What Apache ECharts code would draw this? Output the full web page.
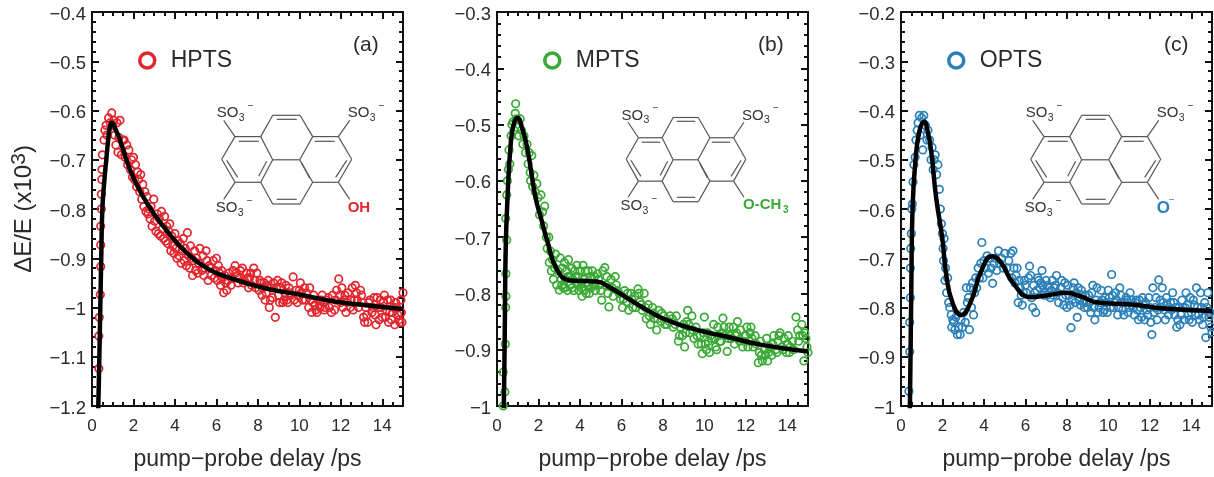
<!DOCTYPE html>
<html>
<head>
<meta charset="utf-8">
<style>
  html, body { margin: 0; padding: 0; background: #fff; }
  #chart { width: 1214px; height: 477px; }
</style>
</head>
<body>
<div id="chart"></div>
<script src="https://cdn.jsdelivr.net/npm/echarts@6/dist/echarts.min.js"></script>
<script>
// values: [delay in ps, dE/E]
const hptsPoints = [
  [0.33,-1.124],[0.33,-1.058],[0.35,-1.02],[0.4,-0.974],[0.42,-0.917],[0.42,-0.873],[0.42,-0.835],[0.45,-0.8],[0.45,-0.77],[0.47,-0.74],[0.48,-0.72],[0.5,-0.69],
  [0.58,-0.66],[0.62,-0.64],[0.68,-0.63],[0.72,-0.65],[0.8,-0.615],[0.88,-0.625],[0.95,-0.605],[1.0,-0.63],[1.05,-0.62],[1.1,-0.65],[1.15,-0.67],[1.2,-0.625],[1.25,-0.685],[1.3,-0.655],[1.35,-0.62],[1.42,-0.69],[1.48,-0.66],[1.55,-0.66],[1.6,-0.695],[1.68,-0.67],[1.72,-0.71],[1.78,-0.68],[1.85,-0.72],[1.9,-0.7],[1.95,-0.735],[2.0,-0.695],[2.05,-0.74],[2.1,-0.71],[2.15,-0.755],[2.2,-0.725],[2.25,-0.74],[2.3,-0.765],[2.35,-0.73],[2.4,-0.78],[2.45,-0.75],[2.5,-0.795],[2.55,-0.765],[2.6,-0.805],[2.65,-0.775],[2.7,-0.81],[2.75,-0.8],[2.8,-0.82],[2.85,-0.795],[2.9,-0.835],[2.98,-0.78],[3.02,-0.825],[3.08,-0.845],[3.15,-0.81],[3.2,-0.85],[3.25,-0.82],[3.3,-0.855],[3.35,-0.805],[3.4,-0.84],[3.45,-0.86],[3.5,-0.815],[3.55,-0.865],[3.6,-0.835],[3.65,-0.87],[3.7,-0.845],[3.75,-0.83],[3.8,-0.885],[3.85,-0.855],[3.9,-0.875],
  [3.95,-0.89],[4.0,-0.85],[4.05,-0.88],[4.1,-0.9],[4.15,-0.865],[4.2,-0.895],[4.25,-0.87],[4.3,-0.91],[4.35,-0.885],[4.4,-0.86],[4.45,-0.905],[4.5,-0.88],[4.55,-0.915],[4.6,-0.848],[4.65,-0.895],[4.7,-0.92],[4.75,-0.875],[4.8,-0.9],[4.85,-0.935],[4.9,-0.905],[4.95,-0.885],[5.0,-0.925],[5.05,-0.9],[5.1,-0.93],[5.15,-0.91],[5.2,-0.88],[5.3,-0.925],[5.35,-0.895],[5.45,-0.92],[5.5,-0.885],[5.6,-0.945],[5.65,-0.915],[5.75,-0.935],[5.85,-0.905],[5.95,-0.925],[6.0,-0.9],[6.05,-0.945],[6.15,-0.93],[6.2,-0.955],[6.3,-0.94],[6.35,-0.97],[6.45,-0.95],[6.5,-0.965],[6.6,-0.93],[6.7,-0.955],[6.8,-0.925],[6.9,-0.915],[7.0,-0.935],[7.05,-0.95],[7.15,-0.925],[7.25,-0.92],[7.35,-0.945],[7.45,-0.93],[7.55,-0.96],[7.6,-0.94],[7.7,-0.955],[7.8,-0.92],[7.85,-0.945],[7.95,-0.93],[8.05,-0.965],[8.15,-0.95],[8.2,-0.975],[8.3,-0.95],[8.35,-0.985],[8.45,-0.955],[8.55,-1.0],[8.65,-0.96],[8.7,-0.98],[8.84,-1.02],[8.9,-0.96],[9.0,-0.975],[9.1,-0.96],[9.2,-0.99],[9.3,-0.97],[9.4,-0.985],[9.5,-0.96],[9.6,-0.975],[9.7,-0.938],[9.75,-0.985],[9.85,-0.965],[9.95,-0.975],[10.05,-0.95],[10.15,-0.985],[10.25,-0.96],[10.35,-0.97],[10.45,-1.0],[10.55,-0.985],[10.6,-1.01],[10.7,-0.975],[10.8,-1.005],[10.9,-0.985],[11.0,-1.0],[11.1,-0.975],[11.2,-1.005],[11.3,-0.985],[11.45,-1.0],[11.6,-0.975],[11.7,-1.005],[11.8,-0.965],[11.9,-0.942],[11.95,-0.975],[12.05,-0.96],[12.15,-0.985],[12.25,-1.01],[12.35,-0.97],[12.45,-1.0],[12.55,-0.96],[12.65,-0.985],[12.75,-0.97],[12.85,-1.0],[13.0,-0.975],[13.1,-1.02],[13.2,-1.0],[13.3,-1.03],[13.4,-0.985],[13.5,-1.01],[13.6,-0.98],[13.7,-1.035],[13.8,-1.0],[13.9,-0.985],[14.0,-1.02],[14.1,-0.975],[14.2,-1.005],[14.3,-1.03],[14.4,-0.985],[14.5,-1.01],[14.6,-1.035],[14.7,-1.0],[14.8,-1.025],[14.9,-0.985],[14.95,-1.03],[15.0,-0.97],
  [5.4,-0.935],[5.55,-0.905],[5.7,-0.92],[5.9,-0.94],[6.1,-0.915],[6.25,-0.925],[6.4,-0.935],[6.55,-0.945],[6.75,-0.94],[6.95,-0.93],[7.1,-0.94],[7.3,-0.95],[7.5,-0.94],[7.65,-0.93],[7.9,-0.96],[8.1,-0.945],[8.25,-0.96],[8.4,-0.97],[8.5,-0.945],[8.6,-0.985],[8.75,-0.95],[8.95,-0.945],[9.05,-0.99],[9.15,-0.95],[9.25,-0.985],[9.35,-0.955],[9.45,-0.99],[9.55,-0.97],[9.9,-0.99],[10.0,-0.965],[10.1,-0.97],[10.3,-0.985],[10.5,-0.96],[10.65,-0.99],[10.75,-0.995],[10.85,-1.01],[11.05,-0.985],[11.15,-0.99],[11.25,-1.0],[11.4,-0.98],[11.55,-1.01],[11.75,-0.985],[12.0,-0.99],[12.1,-1.0],[12.2,-0.975],[12.3,-0.99],[12.5,-0.985],[12.6,-1.005],[12.7,-0.955],[12.8,-0.985],[12.95,-0.965],[13.05,-0.99],[13.15,-1.03],[13.25,-1.015],[13.35,-0.99],[13.55,-1.0],[13.65,-1.015],[13.75,-0.98],[13.85,-1.025],[13.95,-1.0],[14.05,-0.99],[14.15,-1.02],[14.25,-0.985],[14.35,-1.01],[14.45,-1.025],[14.55,-1.0],[14.65,-0.99],[14.75,-1.015],[14.85,-1.03],[14.92,-1.01]
];
const hptsFit = [[0.25,-1.3],[0.33,-1.15],[0.4,-1.0],[0.45,-0.89],[0.5,-0.8],[0.6,-0.74],[0.69,-0.7],[0.78,-0.66],[0.86,-0.635],[0.95,-0.625],[1.1,-0.635],[1.35,-0.66],[1.83,-0.72],[2.4,-0.77],[2.96,-0.808],[3.76,-0.852],[4.57,-0.889],[5.53,-0.92],[6.66,-0.94],[8.45,-0.962],[10.05,-0.974],[11.7,-0.988],[13.3,-0.996],[15,-1.003]];

const mptsPoints = [
  [0.3,-1.0],[0.3,-0.94],[0.38,-0.975],[0.4,-0.89],[0.42,-0.825],[0.43,-0.805],[0.43,-0.765],[0.42,-0.667],[0.47,-0.705],[0.47,-0.625],[0.5,-0.6],[0.55,-0.58],[0.58,-0.545],[0.62,-0.57],[0.68,-0.52],[0.72,-0.5],[0.78,-0.495],[0.82,-0.51],[0.88,-0.48],[0.9,-0.463],[0.92,-0.49],[0.98,-0.505],[1.05,-0.52],[1.12,-0.49],[1.18,-0.51],[1.25,-0.535],[1.3,-0.52],[1.38,-0.55],[1.45,-0.535],[1.5,-0.57],[1.55,-0.55],[1.6,-0.585],[1.62,-0.6],[1.68,-0.555],[1.72,-0.61],[1.78,-0.59],[1.85,-0.62],[1.92,-0.605],[1.98,-0.63],[2.05,-0.66],[2.12,-0.625],[2.2,-0.655],[2.25,-0.68],[2.3,-0.645],[2.38,-0.7],[2.42,-0.72],[2.5,-0.7],[2.52,-0.745],[2.58,-0.725],[2.62,-0.76],[2.68,-0.74],[2.72,-0.775],[2.78,-0.755],[2.82,-0.73],[2.88,-0.785],[2.95,-0.76],[3.0,-0.794],[3.05,-0.737],[3.1,-0.775],[3.15,-0.755],[3.2,-0.79],[3.25,-0.745],[3.3,-0.775],[3.35,-0.76],[3.4,-0.795],[3.45,-0.74],[3.5,-0.77],[3.55,-0.785],[3.6,-0.755],[3.65,-0.775],[3.7,-0.795],[3.75,-0.76],[3.8,-0.78],[3.85,-0.75],[3.9,-0.77],[3.95,-0.795],[4.0,-0.76],[4.05,-0.78],[4.1,-0.805],[4.15,-0.75],[4.2,-0.775],[4.25,-0.76],[4.3,-0.8],[4.35,-0.78],[4.4,-0.76],[4.45,-0.8],[4.5,-0.77],[4.55,-0.79],[4.6,-0.76],[4.65,-0.785],[4.7,-0.77],[4.75,-0.795],[4.85,-0.765],[4.95,-0.785],[5.05,-0.812],[5.1,-0.76],[5.2,-0.754],[5.25,-0.785],[5.35,-0.8],[5.4,-0.824],[5.5,-0.775],[5.6,-0.805],[5.7,-0.77],[5.8,-0.795],[5.95,-0.81],[6.05,-0.825],[6.15,-0.795],[6.25,-0.815],[6.35,-0.83],[6.45,-0.8],[6.55,-0.825],[6.65,-0.805],[6.8,-0.792],[6.9,-0.815],[7.0,-0.83],[7.1,-0.8],[7.2,-0.845],[7.3,-0.82],[7.4,-0.855],[7.5,-0.825],[7.6,-0.845],[7.7,-0.865],[7.8,-0.83],[7.9,-0.85],[8.05,-0.84],[8.2,-0.855],[8.35,-0.84],[8.5,-0.86],[8.65,-0.84],[8.75,-0.885],[8.85,-0.86],[8.95,-0.875],[9.05,-0.895],[9.15,-0.85],[9.2,-0.83],[9.3,-0.87],[9.4,-0.84],[9.5,-0.88],[9.6,-0.86],[9.7,-0.89],[9.8,-0.875],[9.9,-0.907],[10.0,-0.842],[10.05,-0.89],[10.15,-0.87],[10.25,-0.905],[10.35,-0.88],[10.45,-0.855],[10.55,-0.895],[10.65,-0.86],[10.75,-0.885],[10.85,-0.87],[10.9,-0.844],[11.0,-0.875],[11.1,-0.903],[11.2,-0.86],[11.3,-0.88],[11.4,-0.86],[11.5,-0.875],[11.6,-0.85],[11.7,-0.885],[11.85,-0.895],[11.95,-0.875],[12.05,-0.86],[12.15,-0.885],[12.25,-0.86],[12.35,-0.895],[12.45,-0.875],[12.6,-0.923],[12.7,-0.885],[12.8,-0.92],[12.9,-0.9],[13.0,-0.88],[13.05,-0.92],[13.15,-0.895],[13.25,-0.91],[13.35,-0.875],[13.45,-0.9],[13.55,-0.885],[13.65,-0.87],[13.75,-0.895],[13.85,-0.88],[13.95,-0.905],[14.05,-0.875],[14.15,-0.895],[14.25,-0.885],[14.42,-0.842],[14.5,-0.865],[14.6,-0.875],[14.7,-0.855],[14.8,-0.92],[14.85,-0.87],[14.95,-0.895],[15.0,-0.905],
  [3.12,-0.785],[3.28,-0.79],[3.42,-0.77],[3.62,-0.79],[3.78,-0.77],[3.92,-0.785],[4.08,-0.79],[4.22,-0.795],[4.42,-0.785],[4.58,-0.775],[4.72,-0.785],[4.9,-0.775],[5.0,-0.795],[5.3,-0.77],[5.55,-0.79],[5.75,-0.785],[5.9,-0.8],[6.1,-0.81],[6.3,-0.8],[6.5,-0.81],[6.7,-0.825],[6.85,-0.8],[6.95,-0.82],[7.15,-0.825],[7.35,-0.84],[7.55,-0.835],[7.75,-0.845],[7.95,-0.835],[8.1,-0.855],[8.3,-0.85],[8.45,-0.845],[8.6,-0.855],[8.8,-0.875],[9.0,-0.855],[9.1,-0.87],[9.25,-0.855],[9.45,-0.865],[9.65,-0.875],[9.85,-0.89],[9.95,-0.87],[10.1,-0.9],[10.2,-0.885],[10.3,-0.875],[10.5,-0.88],[10.6,-0.9],[10.7,-0.875],[10.8,-0.885],[10.95,-0.86],[11.15,-0.88],[11.25,-0.875],[11.45,-0.89],[11.55,-0.87],[11.75,-0.865],[11.9,-0.885],[12.0,-0.875],[12.1,-0.895],[12.2,-0.87],[12.3,-0.88],[12.5,-0.89],[12.65,-0.905],[12.75,-0.91],[12.95,-0.91],[13.1,-0.905],[13.3,-0.89],[13.5,-0.905],[13.6,-0.875],[13.8,-0.9],[14.0,-0.89],[14.1,-0.905],[14.3,-0.9],[14.55,-0.885],[14.75,-0.875],[14.9,-0.88]
];
const mptsFit = [[0.3,-1.05],[0.33,-1.0],[0.38,-0.85],[0.42,-0.72],[0.52,-0.62],[0.65,-0.54],[0.8,-0.5],[1,-0.488],[1.2,-0.505],[1.45,-0.54],[1.85,-0.628],[2.15,-0.67],[2.41,-0.705],[2.9,-0.758],[3.54,-0.777],[4.2,-0.778],[4.82,-0.779],[5.47,-0.79],[6.27,-0.808],[7.07,-0.826],[8.03,-0.845],[9.47,-0.863],[11.1,-0.877],[12.7,-0.891],[15,-0.903]];

const optsPoints = [
  [0.38,-0.97],[0.42,-0.89],[0.42,-0.83],[0.45,-0.78],[0.45,-0.72],[0.47,-0.68],[0.5,-0.65],[0.52,-0.6],[0.55,-0.59],[0.58,-0.545],[0.62,-0.51],[0.68,-0.495],[0.72,-0.46],[0.78,-0.44],[0.82,-0.425],[0.88,-0.41],[0.92,-0.45],[1.0,-0.415],[1.05,-0.48],[1.1,-0.41],[1.18,-0.43],[1.25,-0.46],[1.3,-0.44],[1.38,-0.46],[1.45,-0.5],[1.5,-0.475],[1.55,-0.52],[1.6,-0.5],[1.65,-0.49],[1.72,-0.53],[1.78,-0.51],[1.85,-0.56],[1.9,-0.6],[1.95,-0.63],[2.0,-0.65],[2.03,-0.68],[2.08,-0.66],[2.05,-0.705],[2.15,-0.72],[2.12,-0.745],[2.25,-0.74],[2.2,-0.77],[2.3,-0.79],[2.35,-0.8],[2.42,-0.815],[2.45,-0.84],[2.5,-0.825],[2.55,-0.83],[2.6,-0.845],[2.65,-0.82],[2.72,-0.855],[2.78,-0.84],[2.85,-0.855],[2.9,-0.825],[2.95,-0.84],[3.02,-0.81],[3.1,-0.83],[3.15,-0.76],[3.2,-0.79],[3.25,-0.78],[3.3,-0.845],[3.35,-0.76],[3.4,-0.8],[3.45,-0.75],[3.5,-0.815],[3.55,-0.77],[3.6,-0.74],[3.65,-0.76],[3.72,-0.72],[3.78,-0.74],[3.85,-0.71],[3.9,-0.668],[3.95,-0.74],[4.0,-0.705],[4.08,-0.72],[4.15,-0.695],[4.22,-0.73],[4.3,-0.7],[4.35,-0.72],[4.42,-0.751],[4.48,-0.71],[4.55,-0.7],[4.62,-0.725],[4.7,-0.685],[4.75,-0.71],[4.85,-0.7],[4.92,-0.72],[5.0,-0.69],[5.1,-0.72],[5.2,-0.705],[5.3,-0.69],[5.35,-0.74],[5.4,-0.685],[5.5,-0.75],[5.6,-0.72],[5.65,-0.79],[5.75,-0.76],[5.85,-0.795],[5.95,-0.745],[6.05,-0.77],[6.15,-0.74],[6.2,-0.716],[6.3,-0.78],[6.35,-0.8],[6.4,-0.755],[6.5,-0.81],[6.6,-0.74],[6.7,-0.76],[6.8,-0.725],[6.9,-0.775],[7.0,-0.745],[7.1,-0.755],[7.2,-0.78],[7.3,-0.745],[7.4,-0.76],[7.5,-0.735],[7.6,-0.79],[7.7,-0.76],[7.8,-0.78],[7.9,-0.75],[8.0,-0.8],[8.1,-0.775],[8.2,-0.841],[8.3,-0.76],[8.4,-0.79],[8.5,-0.82],[8.55,-0.76],[8.65,-0.795],[8.75,-0.775],[8.85,-0.8],[8.95,-0.79],[9.05,-0.775],[9.15,-0.81],[9.25,-0.755],[9.35,-0.825],[9.45,-0.76],[9.55,-0.8],[9.65,-0.765],[9.75,-0.81],[9.85,-0.78],[9.95,-0.81],[10.05,-0.78],[10.16,-0.733],[10.25,-0.8],[10.35,-0.77],[10.45,-0.815],[10.55,-0.76],[10.65,-0.79],[10.75,-0.815],[10.85,-0.78],[10.95,-0.81],[11.05,-0.77],[11.15,-0.795],[11.25,-0.815],[11.35,-0.785],[11.45,-0.825],[11.55,-0.8],[11.65,-0.78],[11.75,-0.825],[11.85,-0.805],[11.95,-0.78],[12.05,-0.83],[12.1,-0.855],[12.15,-0.76],[12.25,-0.8],[12.35,-0.825],[12.43,-0.744],[12.5,-0.785],[12.6,-0.76],[12.7,-0.805],[12.8,-0.78],[12.9,-0.815],[13.0,-0.79],[13.1,-0.77],[13.2,-0.815],[13.3,-0.84],[13.4,-0.8],[13.45,-0.835],[13.55,-0.785],[13.65,-0.825],[13.75,-0.77],[13.85,-0.815],[13.95,-0.78],[14.05,-0.83],[14.15,-0.795],[14.25,-0.76],[14.35,-0.815],[14.45,-0.77],[14.55,-0.835],[14.65,-0.79],[14.7,-0.861],[14.8,-0.77],[14.85,-0.82],[14.95,-0.84],[15.0,-0.85],
  [5.45,-0.72],[5.55,-0.735],[5.7,-0.745],[5.8,-0.775],[5.9,-0.77],[6.0,-0.755],[6.25,-0.735],[6.45,-0.77],[6.55,-0.765],[6.65,-0.745],[6.75,-0.75],[6.85,-0.755],[6.95,-0.77],[7.05,-0.775],[7.15,-0.76],[7.25,-0.765],[7.35,-0.775],[7.45,-0.755],[7.55,-0.77],[7.75,-0.745],[7.85,-0.795],[7.95,-0.775],[8.05,-0.755],[8.15,-0.795],[8.25,-0.785],[8.35,-0.75],[8.45,-0.77],[8.6,-0.785],[8.7,-0.765],[8.8,-0.79],[8.9,-0.775],[9.0,-0.8],[9.1,-0.79],[9.2,-0.77],[9.3,-0.8],[9.4,-0.785],[9.5,-0.81],[9.6,-0.79],[9.7,-0.785],[9.8,-0.805],[9.9,-0.79],[10.0,-0.765],[10.1,-0.8],[10.2,-0.775],[10.3,-0.79],[10.4,-0.785],[10.5,-0.8],[10.6,-0.775],[10.7,-0.805],[10.8,-0.79],[10.9,-0.785],[11.0,-0.8],[11.1,-0.785],[11.2,-0.8],[11.3,-0.79],[11.4,-0.805],[11.5,-0.785],[11.6,-0.82],[11.7,-0.795],[11.8,-0.79],[11.9,-0.815],[12.0,-0.8],[12.2,-0.81],[12.3,-0.78],[12.4,-0.805],[12.55,-0.8],[12.65,-0.79],[12.75,-0.825],[12.85,-0.795],[12.95,-0.8],[13.05,-0.805],[13.15,-0.79],[13.25,-0.8],[13.35,-0.825],[13.5,-0.815],[13.6,-0.8],[13.7,-0.8],[13.8,-0.795],[13.9,-0.825],[14.0,-0.81],[14.1,-0.785],[14.2,-0.815],[14.3,-0.8],[14.4,-0.825],[14.5,-0.8],[14.6,-0.82],[14.75,-0.8],[14.9,-0.81]
];
const optsFit = [[0.4,-1.05],[0.43,-1.0],[0.5,-0.75],[0.56,-0.595],[0.7,-0.5],[0.9,-0.44],[1.12,-0.423],[1.3,-0.445],[1.45,-0.48],[1.69,-0.575],[2.0,-0.662],[2.17,-0.73],[2.48,-0.79],[2.9,-0.815],[3.37,-0.788],[3.86,-0.727],[4.4,-0.696],[4.84,-0.71],[5.4,-0.75],[6.25,-0.779],[7.07,-0.775],[7.96,-0.77],[8.7,-0.778],[9.5,-0.79],[11.1,-0.794],[12.7,-0.802],[15,-0.807]];

const xMajorTicks = 2, xMinorTicks = 0.5, yMajorTicks = 0.1, yMinorTicks = 0.02;
const xMax = 15;

const panels = [
  { name: 'HPTS', tag: '(a)', color: '#e2252e', yMin: -1.2, yMax: -0.4, points: hptsPoints, fit: hptsFit, left: 92, tagX: 353, cx: 286.7, sx: 1, sy: 1, yTitle: true },
  { name: 'MPTS', tag: '(b)', color: '#3aa935', yMin: -1, yMax: -0.3, points: mptsPoints, fit: mptsFit, left: 497, tagX: 758, cx: 686, sx: 0.92, sy: 0.95 },
  { name: 'OPTS', tag: '(c)', color: '#2b80ba', yMin: -1, yMax: -0.2, points: optsPoints, fit: optsFit, left: 901, tagX: 1164, cx: 1095.7, sx: 1, sy: 1 }
];
const plotTop = 12, plotW = 311, plotH = 394;
const fontName = '"Liberation Sans", Arial, sans-serif';

// pyrene skeleton, px from the middle of the ring system
const atoms = {
  A:[-14,-44], B:[13.3,-44], C:[26,-22.7], D:[-26,-22.7], E:[-51.7,-22.7], F:[-65,0], G:[-51.7,23], H:[-26,23],
  I:[-14,0.5], J:[13,0.5], K:[51.7,-22.7], L:[65,0], M:[51.7,23], N:[26,23], O:[-14,44.7], P:[13.3,44.7]
};
const bonds = ['AB','BC','CJ','JI','ID','DA','DE','EF','FG','GH','HI','CK','KL','LM','MN','NJ','HO','OP','PN'];
const innerBonds = [
  [-10,-40,10,-40],[-48,-18,-28,-18],[28,-18,48,-18],[-60,1,-49,18],[60,1,49,18],[-20,2,-28,17],[15,4,23,19],[-10,40,10,40],
  [-51.7,-22.7,-63,-39],[51.7,-22.7,63,-39],[-51.7,23,-63,40],[51.7,23,63,40]
];

function txt(x, y, text, size, color, weight) {
  return { type: 'text', x: x, y: y, silent: true, z: 10,
    style: { text: text, fill: color || '#333', font: (weight || 'normal') + ' ' + size + 'px ' + fontName, textVerticalAlign: 'middle' } };
}

function so3(x, y) {
  return [txt(x, y, 'SO', 15), txt(x + 22, y + 5, '3', 10.5), txt(x + 31, y - 7, '\u2212', 10)];
}

function molecule(p) {
  const kids = [];
  const line = (x1, y1, x2, y2) => kids.push({ type: 'line', silent: true, z: 10,
    shape: { x1: x1 * p.sx, y1: y1 * p.sy, x2: x2 * p.sx, y2: y2 * p.sy },
    style: { stroke: '#555', lineWidth: 1.2 } });
  bonds.forEach(b => {
    const s = atoms[b[0]], e = atoms[b[1]];
    line(s[0], s[1], e[0], e[1]);
  });
  innerBonds.forEach(b => line(b[0], b[1], b[2], b[3]));
  const lx = -70 * p.sx, rx = 61 * p.sx, ty = -46 * p.sy, by = 49 * p.sy;
  kids.push(...so3(lx, ty), ...so3(rx, ty), ...so3(lx - 1, by));
  if (p.name === 'HPTS') kids.push(txt(61, by, 'OH', 15, p.color, 'bold'));
  if (p.name === 'MPTS') kids.push(txt(57, by - 1, 'O-CH', 15, p.color, 'bold'), txt(97, by + 4, '3', 10, p.color, 'bold'));
  if (p.name === 'OPTS') kids.push(txt(61, by, 'O', 17, p.color, 'bold'), txt(73, by - 8, '\u2212', 10, p.color));
  return { type: 'group', x: p.cx, y: 159.3, children: kids };
}

function yLabel(v) {
  return Number(v.toFixed(1)).toString().replace('-', '\u2212');
}

const grid = [], xAxis = [], yAxis = [], series = [], legend = [], elements = [];

panels.forEach((p, i) => {
  // onZero off or the right axis jumps onto x = 0
  const axisLine = { show: true, onZero: false, lineStyle: { color: '#111', width: 2 } };
  const major = { show: true, inside: true, length: 7, lineStyle: { color: '#111', width: 2 } };
  const minor = { show: true, inside: true, length: 4, lineStyle: { color: '#111', width: 2 } };

  // one grid for the labelled axes, one on top of it for the minor ticks
  // outerBoundsMode none: v6 would otherwise shrink the labelled grid
  [0, 1].forEach(k => grid.push({ left: p.left, top: plotTop, width: plotW, height: plotH, outerBoundsMode: 'none' }));
  const g = i * 2;

  xAxis.push({
    type: 'value', gridIndex: g, min: 0, max: xMax, interval: xMajorTicks, position: 'bottom',
    axisLine, axisTick: major, splitLine: { show: false },
    axisLabel: { color: '#2a2a2a', fontSize: 17, fontFamily: fontName, margin: 12, showMaxLabel: false },
    name: 'pump\u2212probe delay /ps', nameLocation: 'middle', nameGap: 42,
    nameTextStyle: { color: '#2a2a2a', fontSize: 23, fontFamily: fontName }
  }, {
    type: 'value', gridIndex: g, min: 0, max: xMax, interval: xMajorTicks, position: 'top',
    axisLine, axisTick: major, axisLabel: { show: false }, splitLine: { show: false }
  }, {
    type: 'value', gridIndex: g + 1, min: 0, max: xMax, interval: xMinorTicks, position: 'bottom',
    axisLine, axisTick: minor, axisLabel: { show: false }, splitLine: { show: false }
  }, {
    type: 'value', gridIndex: g + 1, min: 0, max: xMax, interval: xMinorTicks, position: 'top',
    axisLine, axisTick: minor, axisLabel: { show: false }, splitLine: { show: false }
  });

  const yMain = {
    type: 'value', gridIndex: g, min: p.yMin, max: p.yMax, interval: yMajorTicks, position: 'left',
    axisLine, axisTick: major, splitLine: { show: false },
    // the labels sit a little below their ticks in the picture
    axisLabel: { color: '#2a2a2a', fontSize: 18.5, fontFamily: fontName, margin: 6, verticalAlign: 'top', lineHeight: 5, formatter: yLabel }
  };
  if (p.yTitle) {
    yMain.name = '{a|\u0394E/E (x10}{b|3}{a|)}';
    yMain.nameLocation = 'middle';
    yMain.nameGap = 53;
    yMain.nameRotate = 90;
    yMain.nameTextStyle = {
      rich: {
        a: { fontSize: 24, fontFamily: fontName, color: '#2a2a2a' },
        b: { fontSize: 21, fontFamily: fontName, color: '#2a2a2a', padding: [0, 0, 9, 0] }
      }
    };
  }
  yAxis.push(yMain, {
    type: 'value', gridIndex: g, min: p.yMin, max: p.yMax, interval: yMajorTicks, position: 'right',
    axisLine, axisTick: major, axisLabel: { show: false }, splitLine: { show: false }
  }, {
    type: 'value', gridIndex: g + 1, min: p.yMin, max: p.yMax, interval: yMinorTicks, position: 'left',
    axisLine, axisTick: minor, axisLabel: { show: false }, splitLine: { show: false }
  }, {
    type: 'value', gridIndex: g + 1, min: p.yMin, max: p.yMax, interval: yMinorTicks, position: 'right',
    axisLine, axisTick: minor, axisLabel: { show: false }, splitLine: { show: false }
  });

  series.push({
    name: p.name, type: 'scatter', xAxisIndex: i * 4, yAxisIndex: i * 4, data: p.points,
    symbol: 'circle', symbolSize: 7.5, clip: true, z: 2, silent: true,
    itemStyle: { color: 'transparent', borderColor: p.color, borderWidth: 1.7, opacity: 1 }
  }, {
    name: p.name + ' fit', type: 'line', xAxisIndex: i * 4, yAxisIndex: i * 4, data: p.fit,
    showSymbol: false, smooth: 0.5, clip: true, z: 3, silent: true,
    lineStyle: { color: '#000', width: 4.5 }
  });

  legend.push({
    data: [p.name], left: p.left + 41, top: 44, orient: 'horizontal', selectedMode: false,
    icon: 'circle', itemWidth: 15, itemHeight: 15, itemGap: 0,
    itemStyle: { color: 'transparent', borderColor: p.color, borderWidth: 3.5, opacity: 1 },
    textStyle: { color: '#2a2a2a', fontSize: 23, fontFamily: fontName, padding: [0, 0, 0, 11] }
  });

  elements.push(txt(p.tagX, 45, p.tag, 21, '#2a2a2a'), molecule(p));
});

const chart = echarts.init(document.getElementById('chart'), null, { renderer: 'canvas' });
chart.setOption({
  animation: false,
  backgroundColor: '#fff',
  grid, xAxis, yAxis, series, legend,
  graphic: { elements }
});
</script>
</body>
</html>
